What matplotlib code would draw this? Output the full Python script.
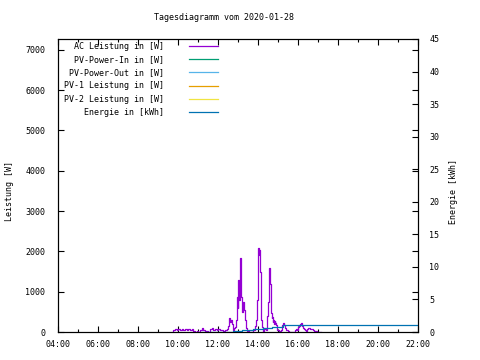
import matplotlib
matplotlib.use('Agg')
import matplotlib.pyplot as plt
from matplotlib.ticker import MultipleLocator, FuncFormatter

# ── Daten ────────────────────────────────────────────────────────────────
# Zeit in Stunden (dezimal), Leistung in W
ac_time = [9.733, 9.767, 9.85, 9.933, 10.017, 10.1, 10.183, 10.267, 10.35, 10.433,
           10.517, 10.6, 10.683, 10.767, 10.85, 10.933, 11.017, 11.1, 11.183, 11.267,
           11.35, 11.433, 11.517, 11.6, 11.683, 11.767, 11.85, 11.933, 12.017, 12.1,
           12.183, 12.267, 12.35, 12.433, 12.5, 12.55, 12.6, 12.65, 12.7, 12.767,
           12.817, 12.867, 12.917, 12.967, 13.0, 13.017, 13.05, 13.067, 13.1, 13.117,
           13.15, 13.167, 13.217, 13.267, 13.317, 13.367, 13.417, 13.467, 13.533, 13.6,
           13.683, 13.767, 13.833, 13.9, 13.933, 13.967, 14.0, 14.017, 14.05, 14.067,
           14.1, 14.133, 14.15, 14.2, 14.217, 14.267, 14.317, 14.383, 14.433, 14.467,
           14.5, 14.533, 14.55, 14.583, 14.6, 14.633, 14.65, 14.683, 14.7, 14.733,
           14.767, 14.8, 14.833, 14.867, 14.9, 14.933, 14.967, 15.033, 15.1, 15.167,
           15.217, 15.267, 15.3, 15.35, 15.4, 15.433, 15.483, 15.533, 15.6, 15.683,
           15.767, 15.85, 15.9, 15.95, 16.0, 16.05, 16.1, 16.133, 16.183, 16.233,
           16.283, 16.35, 16.4, 16.467, 16.517, 16.567, 16.617, 16.683, 16.733, 16.783,
           16.85, 16.933, 17.017, 17.133]
ac_power = [0, 50, 80, 40, 75, 50, 80, 60, 85, 55,
            75, 50, 70, 30, 10, 20, 0, 60, 100, 40,
            20, 30, 10, 80, 100, 50, 70, 40, 70, 50,
            60, 30, 60, 80, 150, 340, 260, 300, 200, 50,
            100, 130, 300, 870, 600, 1290, 900, 800, 1500, 1830,
            1000, 870, 500, 750, 550, 300, 100, 20, 0, 10,
            0, 40, 150, 300, 500, 800, 1700, 2080, 1900, 2030,
            1500, 800, 300, 200, 130, 0, 80, 60, 130, 400,
            750, 1300, 1600, 1400, 1200, 800, 460, 350, 380, 250,
            300, 200, 270, 220, 170, 100, 50, 20, 10, 60,
            170, 230, 180, 100, 60, 50, 20, 0, 0, 0,
            10, 50, 80, 60, 120, 160, 200, 215, 150, 100,
            80, 50, 30, 70, 90, 90, 70, 80, 50, 30,
            20, 10, 5, 0]

# Energie in kWh
en_time = [11.18, 12.77, 13.18, 13.77, 14.27, 14.68, 15.27, 22.0]
en_kwh = [0, 0.15, 0.3, 0.46, 0.67, 0.82, 1.05, 1.05]

labels = ['AC Leistung in [W]', 'PV-Power-In in [W]', 'PV-Power-Out in [W]',
          'PV-1 Leistung in [W]', 'PV-2 Leistung in [W]', 'Energie in [kWh]']
colors = ['#9400d3', '#009e73', '#56b4e9', '#e69f00', '#f0e442', '#0072b2']

title = 'Tagesdiagramm vom 2020-01-28'

# ── Plot ─────────────────────────────────────────────────────────────────
plt.rcParams['font.family'] = ['DejaVu Sans Mono']
fs = 6

fig = plt.figure(figsize=(4.8, 3.6), dpi=100)
fig.patch.set_facecolor('white')
ax1 = fig.add_axes([58 / 480, 28 / 360, 360 / 480, 293 / 360])
ax2 = ax1.twinx()

handles = []
h, = ax1.plot(ac_time, ac_power, color=colors[0], lw=0.9, drawstyle='steps-post')
handles.append(h)
for c in colors[1:5]:
    h, = ax1.plot([], [], color=c, lw=0.9)
    handles.append(h)
h, = ax2.plot(en_time, en_kwh, color=colors[5], lw=0.9, drawstyle='steps-post')
handles.append(h)

ax1.set_xlim(4, 22)
ax1.set_ylim(0, 7270)
ax2.set_ylim(0, 45)

ax1.xaxis.set_major_locator(MultipleLocator(2))
ax1.xaxis.set_minor_locator(MultipleLocator(1))
ax1.xaxis.set_major_formatter(FuncFormatter(lambda v, p: f'{int(v):02d}:00'))
ax1.yaxis.set_major_locator(MultipleLocator(1000))
ax2.yaxis.set_major_locator(MultipleLocator(5))

ax1.tick_params(which='both', direction='in', top=True, right=True,
                labelsize=fs, width=0.8, colors='black')
ax1.tick_params(which='major', length=4)
ax1.tick_params(which='minor', length=2.5)
ax1.tick_params(axis='x', pad=6)
ax1.tick_params(axis='y', pad=9)
ax2.tick_params(direction='in', length=4, width=0.8, labelsize=fs, pad=8)

for ax in (ax1, ax2):
    for s in ax.spines.values():
        s.set_linewidth(0.8)

ax1.set_ylabel('Leistung [W]', fontsize=fs)
ax1.yaxis.set_label_coords(-0.122, 0.48)
ax2.set_ylabel('Energie [kWh]', fontsize=fs)
ax2.yaxis.set_label_coords(1.086, 0.48)

fig.text(224 / 480, 1 - 18 / 360, title, ha='center', va='center', fontsize=fs)

leg = ax2.legend(handles, labels, loc='upper left', bbox_to_anchor=(0.018, 0.99),
                 frameon=False, markerfirst=False, fontsize=fs,
                 handlelength=3.4, handletextpad=3.0, labelspacing=0.5,
                 borderpad=0, borderaxespad=0)

plt.savefig('out.png', dpi=100, facecolor='white')
